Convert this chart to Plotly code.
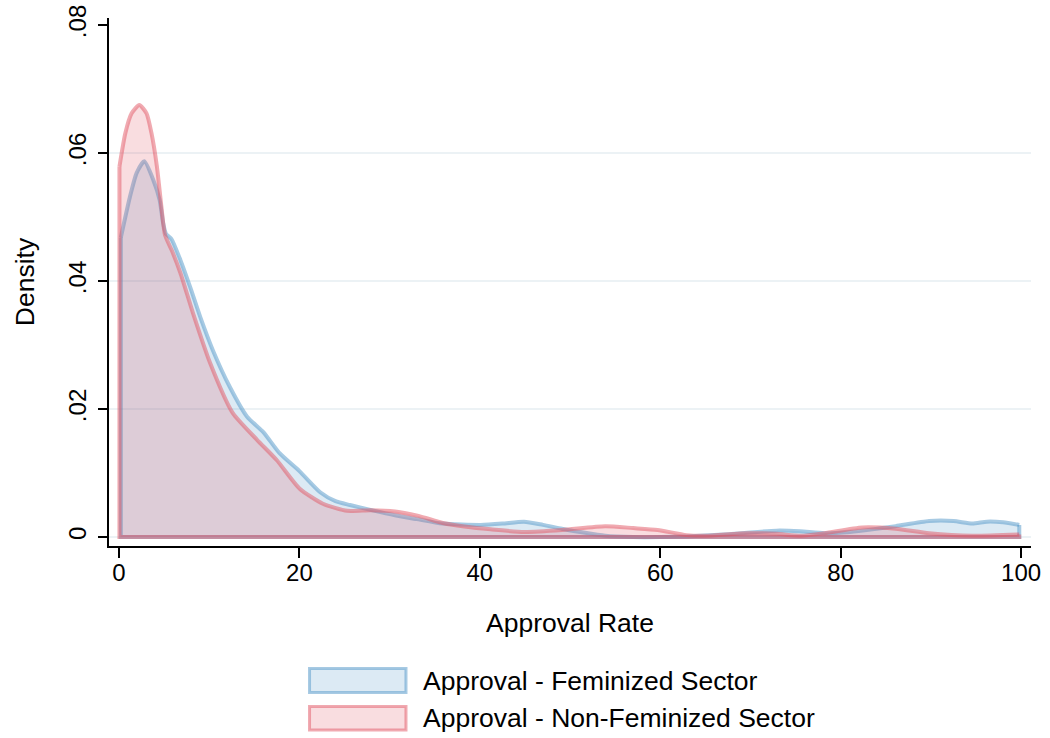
import plotly.graph_objects as go

# ---- data ----
fem_x = [0.2, 1.2, 1.96, 2.8, 3.8, 4.5, 4.9, 5.2, 5.8, 6.8, 7.9, 9.0, 10.4, 12.3, 14.2,
         16.0, 17.8, 20.0, 22.3, 24.0, 25.6, 28.0, 30.6, 33.0, 35.9, 40.1, 42.5, 44.9,
         47.0, 49.1, 51.5, 53.9, 57.0, 60.0, 62.9, 66.0, 69.0, 72.9, 75.5, 78.2, 81.0,
         83.5, 86.1, 89.8, 92.5, 94.6, 96.2, 98.0, 99.8]
fem_y = [0.0468, 0.0531, 0.0569, 0.0587, 0.0558, 0.0527, 0.0490, 0.0474, 0.0466, 0.0433,
         0.0390, 0.0344, 0.0292, 0.0234, 0.0188, 0.0164, 0.0131, 0.0103, 0.0070, 0.0056,
         0.0050, 0.0042, 0.0034, 0.0028, 0.0021, 0.0019, 0.0021, 0.0024, 0.0019, 0.0013,
         0.0007, 0.0002, 0.0000, 0.0000, 0.0001, 0.0003, 0.0006, 0.0010, 0.0009, 0.0006,
         0.0008, 0.0012, 0.0017, 0.0025, 0.0025, 0.0021, 0.0024, 0.0023, 0.0019]

non_x = [0.05, 0.7, 1.4, 2.25, 3.05, 3.6, 4.2, 4.7, 5.1, 5.85, 6.8, 8.2, 10.1, 12.6, 15.3,
         17.5, 20.0, 22.6, 25.3, 27.9, 30.6, 33.2, 35.9, 38.5, 41.2, 44.9, 49.1, 53.9,
         57.0, 59.7, 62.9, 65.0, 69.7, 72.9, 75.6, 78.2, 82.4, 86.1, 89.8, 94.6, 99.8]
non_y = [0.0579, 0.0631, 0.0662, 0.0675, 0.0662, 0.0631, 0.0579, 0.0516, 0.0472, 0.0448,
         0.0413, 0.0350, 0.0272, 0.0194, 0.0152, 0.0120, 0.0076, 0.0052, 0.0041, 0.0042,
         0.0040, 0.0033, 0.0022, 0.0016, 0.0012, 0.0008, 0.0011, 0.0017, 0.0014, 0.0011,
         0.0003, 0.0002, 0.0006, 0.0005, 0.0002, 0.0006, 0.0015, 0.0013, 0.0006, 0.0002,
         0.0004]

series_names = ["Approval - Feminized Sector", "Approval - Non-Feminized Sector"]
x_ticks = [0, 20, 40, 60, 80, 100]
y_ticks = [0, 0.02, 0.04, 0.06, 0.08]
y_tick_text = ["0", ".02", ".04", ".06", ".08"]
grid_vals = [0, 0.02, 0.04, 0.06]

# ---- styles ----
FONT = "Liberation Sans, Arial, sans-serif"
blue_line = "rgba(80,150,200,0.5)"
blue_fill = "rgba(80,150,200,0.2)"
red_line = "rgba(225,85,100,0.5)"
red_fill = "rgba(225,85,100,0.2)"
LW = 4

fig = go.Figure()

for xs, ys, lc, fc, nm in [(fem_x, fem_y, blue_line, blue_fill, series_names[0]),
                            (non_x, non_y, red_line, red_fill, series_names[1])]:
    fig.add_trace(go.Scatter(x=xs, y=ys, mode="lines", name=nm,
                             line=dict(color=lc, width=LW, shape="spline", smoothing=0.6),
                             fill="tozeroy", fillcolor=fc, showlegend=False,
                             hoverinfo="skip"))
    # closing edges: vertical ends and baseline of the area outline
    fig.add_trace(go.Scatter(x=[xs[0], xs[0], xs[-1], xs[-1]],
                             y=[ys[0], 0, 0, ys[-1]], mode="lines",
                             line=dict(color=lc, width=LW), showlegend=False,
                             hoverinfo="skip"))

for v in grid_vals:
    fig.add_hline(y=v, line=dict(color="#e6eef2", width=1.5), layer="below")

# ---- manual legend (Stata-like wide swatches) ----
leg_rows = [(-0.232, -0.2775, blue_line, blue_fill, series_names[0]),
            (-0.304, -0.3485, red_line, red_fill, series_names[1])]
for y0, y1, lc, fc, nm in leg_rows:
    fig.add_shape(type="rect", xref="paper", yref="paper", x0=0.2175, x1=0.3221,
                  y0=y0, y1=y1, line=dict(color=lc, width=3), fillcolor=fc)
    fig.add_annotation(xref="paper", yref="paper", x=0.3384, y=(y0 + y1) / 2,
                       text=nm, showarrow=False, xanchor="left", yanchor="middle",
                       font=dict(family=FONT, size=26.5, color="black"))

fig.update_layout(
    width=1050, height=738,
    margin=dict(l=109, r=19, t=18, b=192, autoexpand=False),
    paper_bgcolor="white", plot_bgcolor="white",
    font=dict(family=FONT, size=24, color="black"),
    showlegend=False,
)
fig.update_xaxes(range=[-1.11, 101.1], tickvals=x_ticks, showgrid=False, zeroline=False,
                 showline=True, linecolor="black", linewidth=1.5, automargin=False,
                 ticks="outside", ticklen=10, tickwidth=1.5, tickcolor="black",
                 tickfont=dict(size=24), ticklabelstandoff=-6, ticklabeloverflow="allow",
                 title=dict(text="Approval Rate", font=dict(size=26.5), standoff=29))
fig.update_yaxes(range=[-0.0014, 0.0811], tickvals=y_ticks, ticktext=y_tick_text,
                 tickangle=-90, showgrid=False, zeroline=False, automargin=False,
                 showline=True, linecolor="black", linewidth=1.5,
                 ticks="outside", ticklen=9, tickwidth=1.5, tickcolor="black",
                 tickfont=dict(size=24), ticklabelstandoff=3, ticklabeloverflow="allow",
                 title=dict(text="Density", font=dict(size=26.5), standoff=21))

# remove the browser's default 8px body margin so the figure fills the window
fig.write_html("out.html", config={"displayModeBar": False},
               post_script="document.body.style.margin='0px';")
